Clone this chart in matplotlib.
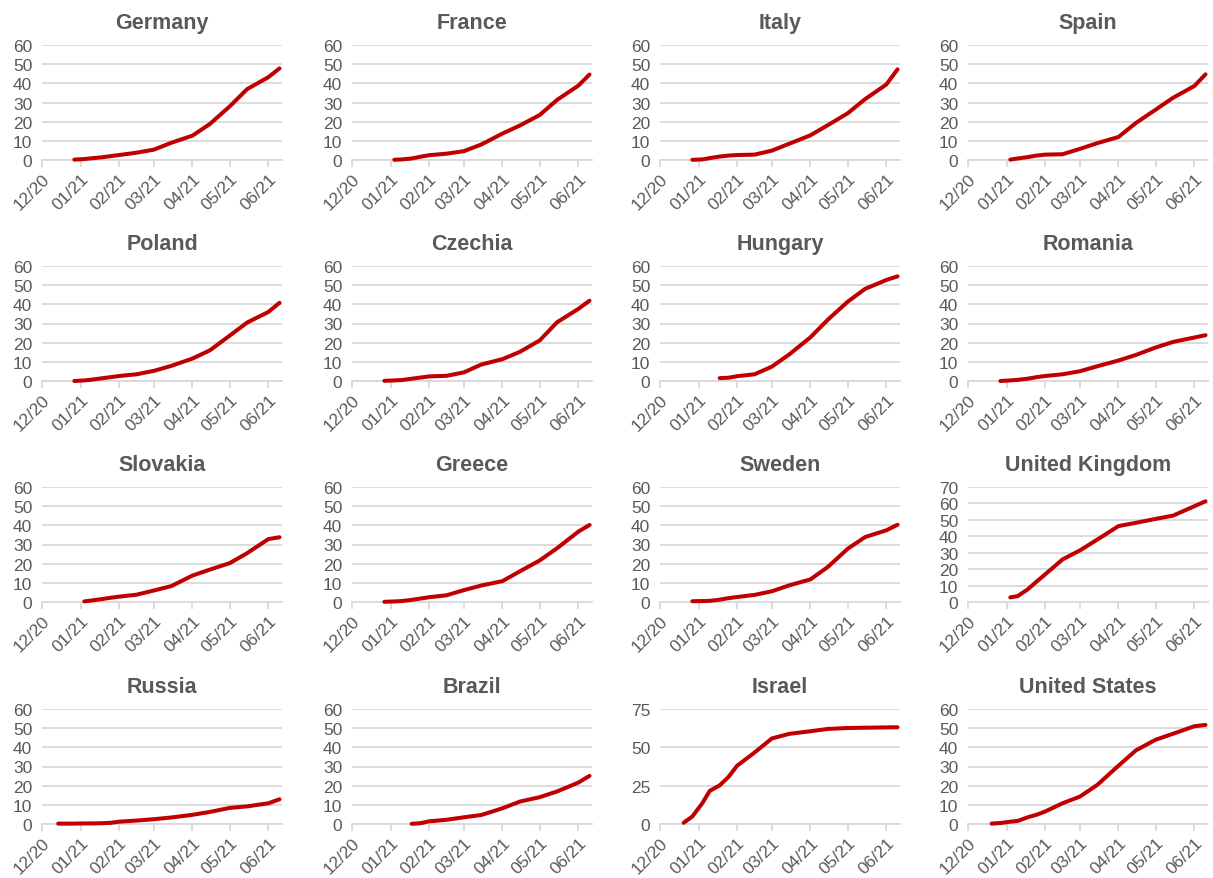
import numpy as np
import pandas as pd
import matplotlib
matplotlib.use('Agg')
import matplotlib.pyplot as plt
import matplotlib.dates as mdates

plt.rcParams['font.family'] = ['Liberation Sans', 'DejaVu Sans']

dates = pd.to_datetime(['2020-12-14', '2020-12-20', '2020-12-27', '2021-01-04', '2021-01-10',
                        '2021-01-18', '2021-01-25', '2021-02-01', '2021-02-15', '2021-03-01',
                        '2021-03-15', '2021-04-01', '2021-04-15', '2021-05-01', '2021-05-15',
                        '2021-06-01', '2021-06-10'])

N = None
germany = [N, N, 0.2, 0.5, 0.9, 1.4, 2.0, 2.6, 3.8, 5.4, 9.0, 12.7, 18.8, 28.0, 37.0, 43.2, 47.8]
france = [N, N, N, 0.1, 0.3, 0.8, 1.7, 2.5, 3.3, 4.6, 8.1, 13.8, 18.0, 23.5, 31.4, 38.8, 44.6]
italy = [N, N, 0.1, 0.3, 1.0, 1.8, 2.3, 2.6, 2.8, 4.9, 8.5, 12.9, 18.2, 24.4, 31.8, 39.4, 47.3]
spain = [N, N, N, 0.2, 0.8, 1.5, 2.3, 2.8, 3.0, 5.8, 8.8, 12.0, 19.3, 26.3, 32.5, 38.6, 44.7]
poland = [N, N, 0.0, 0.3, 0.7, 1.4, 2.0, 2.6, 3.5, 5.3, 7.9, 11.7, 16.0, 23.7, 30.5, 36.0, 40.8]
czechia = [N, N, 0.1, 0.3, 0.5, 1.2, 1.8, 2.4, 2.7, 4.5, 8.6, 11.4, 15.2, 21.2, 30.7, 37.6, 41.9]
hungary = [N, N, N, N, N, 1.5, 1.7, 2.5, 3.5, 7.5, 13.9, 22.8, 32.0, 41.4, 48.1, 52.7, 54.6]
romania = [N, N, 0.0, 0.3, 0.6, 1.2, 2.0, 2.6, 3.5, 5.1, 7.7, 10.7, 13.6, 17.5, 20.4, 22.7, 23.9]
slovakia = [N, N, N, 0.3, 0.8, 1.5, 2.2, 2.8, 3.8, 6.0, 8.3, 13.8, 16.9, 20.3, 25.5, 32.8, 33.8]
greece = [N, N, 0.1, 0.3, 0.5, 1.1, 1.8, 2.5, 3.5, 6.2, 8.6, 10.9, 16.0, 21.7, 28.1, 36.7, 40.2]
sweden = [N, N, 0.4, 0.5, 0.6, 1.2, 2.0, 2.6, 3.7, 5.6, 8.7, 11.8, 18.3, 27.8, 33.9, 37.4, 40.3]
uk = [N, N, N, 2.8, 3.6, 7.7, 12.3, 16.8, 25.9, 31.4, 38.0, 46.2, 48.2, 50.6, 52.6, 58.3, 61.3]
russia = [0.2, 0.2, 0.2, 0.3, 0.3, 0.4, 0.6, 1.2, 1.8, 2.5, 3.4, 4.8, 6.3, 8.4, 9.2, 10.8, 12.9]
brazil = [N, N, N, N, N, 0.1, 0.4, 1.4, 2.2, 3.5, 4.7, 8.2, 11.7, 14.0, 17.0, 21.6, 25.1]
israel = [N, 0.8, 4.9, 13.5, 21.6, 25.2, 30.6, 38.0, 46.6, 55.8, 58.8, 60.5, 62.0, 62.6, 62.8, 63.0, 63.1]
usa = [N, 0.2, 0.5, 1.2, 1.6, 3.5, 4.8, 6.5, 10.8, 14.3, 20.4, 30.4, 38.4, 44.0, 47.1, 51.0, 51.7]

countries = ['Germany', 'France', 'Italy', 'Spain',
             'Poland', 'Czechia', 'Hungary', 'Romania',
             'Slovakia', 'Greece', 'Sweden', 'United Kingdom',
             'Russia', 'Brazil', 'Israel', 'United States']
series = [germany, france, italy, spain,
          poland, czechia, hungary, romania,
          slovakia, greece, sweden, uk,
          russia, brazil, israel, usa]
y_ticks = {'United Kingdom': [0, 10, 20, 30, 40, 50, 60, 70],
           'Israel': [0, 25, 50, 75]}
default_ticks = [0, 10, 20, 30, 40, 50, 60]

month_ticks = pd.to_datetime(['2020-12-01', '2021-01-01', '2021-02-01', '2021-03-01',
                              '2021-04-01', '2021-05-01', '2021-06-01'])

W, H = 1213, 879
fig = plt.figure(figsize=(W / 100, H / 100), dpi=100)

lefts = [42, 352, 660, 968]
tops = [46, 267, 488, 710]
ax_w, ax_h = 240, 115

grey = '#595959'
grid_col = '#D9D9D9'

for i, (name, vals) in enumerate(zip(countries, series)):
    r, c = divmod(i, 4)
    ax = fig.add_axes([lefts[c] / W, (H - tops[r] - ax_h) / H, ax_w / W, ax_h / H])
    y = np.array([np.nan if v is None else v for v in vals], dtype=float)
    ax.plot(dates, y, color='#C00000', lw=2.9, solid_capstyle='round',
            solid_joinstyle='round', clip_on=False, zorder=3)

    ticks = y_ticks.get(name, default_ticks)
    ax.set_ylim(0, ticks[-1])
    ax.set_yticks(ticks)
    ax.set_xlim(pd.Timestamp('2020-12-01'), pd.Timestamp('2021-06-12'))
    ax.set_xticks(month_ticks)
    ax.xaxis.set_major_formatter(mdates.DateFormatter('%m/%y'))

    ax.grid(axis='y', color=grid_col, lw=1.3)
    ax.set_axisbelow(True)
    for s in ['top', 'right', 'left']:
        ax.spines[s].set_visible(False)
    ax.spines['bottom'].set_color(grid_col)
    ax.spines['bottom'].set_linewidth(1.3)

    ax.tick_params(axis='y', length=0, pad=7, labelsize=12.5, labelcolor=grey)
    ax.tick_params(axis='x', length=5, width=1.3, color=grid_col, pad=3,
                   labelsize=12.5, labelcolor=grey)
    for lab in ax.get_xticklabels():
        lab.set_rotation(45)
        lab.set_ha('right')
        lab.set_va('top')
        lab.set_rotation_mode('anchor')

    ax.set_title(name, fontsize=15.5, fontweight='bold', color=grey, pad=12)

plt.savefig('out.png', dpi=100)
plt.close()
